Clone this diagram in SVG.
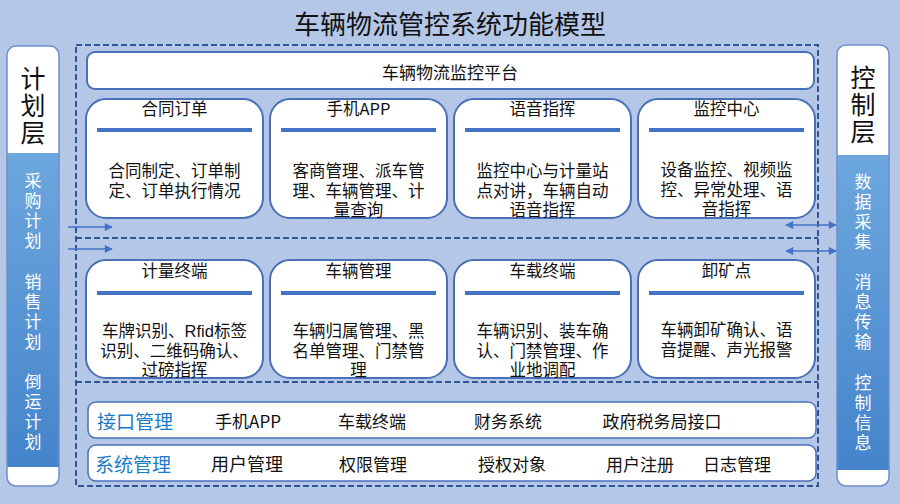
<svg xmlns="http://www.w3.org/2000/svg" width="900" height="504" viewBox="0 0 900 504">
<defs>
<linearGradient id="sideGrad" x1="0" y1="0" x2="0" y2="1">
<stop offset="0" stop-color="#6DA7DE"/>
<stop offset="1" stop-color="#4484CB"/>
</linearGradient>
<marker id="ah" viewBox="0 0 10 10" refX="9" refY="5" markerWidth="9" markerHeight="8" markerUnits="userSpaceOnUse" orient="auto-start-reverse">
<path d="M0,0 L10,5 L0,10 z" fill="#4472C4"/>
</marker>
<clipPath id="clipL"><rect x="7" y="46" width="52" height="440" rx="9"/></clipPath>
<clipPath id="clipR"><rect x="837" y="45" width="52" height="441" rx="9"/></clipPath>
</defs>
<style>
text{font-family:"Noto Sans CJK SC","Noto Sans",sans-serif;fill:#111;text-anchor:middle;dominant-baseline:central}
.card{fill:#fff;stroke:#4A70B8;stroke-width:2}
.bar{stroke:#4472C4;stroke-width:4}
.ct{font-size:16.5px}
.cb{font-size:16.5px;font-family:"Liberation Sans","Noto Sans CJK SC",sans-serif}
.dash{fill:none;stroke:#2F5597;stroke-width:2;stroke-dasharray:6 3}
.side{font-size:25px;writing-mode:vertical-rl;letter-spacing:2px}
.sidew{font-size:17px;fill:#fff;writing-mode:vertical-rl;letter-spacing:3px}
.strip{fill:#fff;stroke:#4A70B8;stroke-width:1.5}
.bt{font-size:17px}
.bh{font-size:19px;fill:#1B7BC9}
.arr{stroke:#4472C4;stroke-width:1.6;fill:none}
</style>
<rect x="0" y="0" width="900" height="504" fill="#B4C7E7"/>
<text x="450" y="22" style="font-size:26px">车辆物流管控系统功能模型</text>

<g id="plan-layer">
<g clip-path="url(#clipL)">
<rect x="7" y="46" width="52" height="440" fill="#fff"/>
<rect x="7" y="153" width="52" height="314" fill="url(#sideGrad)"/>
</g>
<rect x="7" y="46" width="52" height="440" rx="9" fill="none" stroke="#6F8FCB" stroke-width="1.5"/>
<text x="33" y="106" class="side">计划层</text>
<text x="33" y="212" class="sidew">采购计划</text>
<text x="33" y="313" class="sidew">销售计划</text>
<text x="33" y="413" class="sidew">倒运计划</text>
</g>

<g id="control-layer">
<g clip-path="url(#clipR)">
<rect x="837" y="45" width="52" height="441" fill="#fff"/>
<rect x="837" y="155" width="52" height="315" fill="url(#sideGrad)"/>
</g>
<rect x="837" y="45" width="52" height="441" rx="9" fill="none" stroke="#6F8FCB" stroke-width="1.5"/>
<text x="863" y="105.5" class="side">控制层</text>
<text x="863" y="213.5" class="sidew">数据采集</text>
<text x="863" y="313.5" class="sidew">消息传输</text>
<text x="863" y="414" class="sidew">控制信息</text>
</g>

<g id="frame">
<rect x="76" y="45" width="742" height="441" class="dash"/>
<line x1="76" y1="238" x2="818" y2="238" class="dash"/>
<line x1="76" y1="382" x2="818" y2="382" class="dash"/>
</g>

<g id="platform">
<rect x="87" y="52" width="727" height="37" rx="8" class="card" stroke-width="1.5"/>
<text x="450" y="71" style="font-size:17px">车辆物流监控平台</text>
</g>

<g id="card-contract">
<rect x="86" y="99" width="177" height="119" rx="20" class="card"/>
<text x="174.5" y="108" class="ct">合同订单</text>
<line x1="97" y1="130" x2="252" y2="130" class="bar"/>
<text class="cb"><tspan x="174.5" y="171">合同制定、订单制</tspan><tspan x="174.5" y="190.5">定、订单执行情况</tspan></text>
</g>
<g id="card-app">
<rect x="270" y="99" width="177" height="119" rx="20" class="card"/>
<text x="358.5" y="108" class="ct">手机APP</text>
<line x1="281" y1="130" x2="436" y2="130" class="bar"/>
<text class="cb"><tspan x="358.5" y="171">客商管理、派车管</tspan><tspan x="358.5" y="190.5">理、车辆管理、计</tspan><tspan x="358.5" y="210">量查询</tspan></text>
</g>
<g id="card-voice">
<rect x="454" y="99" width="177" height="119" rx="20" class="card"/>
<text x="542.5" y="108" class="ct">语音指挥</text>
<line x1="465" y1="130" x2="620" y2="130" class="bar"/>
<text class="cb"><tspan x="542.5" y="171">监控中心与计量站</tspan><tspan x="542.5" y="190.5">点对讲，车辆自动</tspan><tspan x="542.5" y="210">语音指挥</tspan></text>
</g>
<g id="card-monitor">
<rect x="638" y="99" width="177" height="119" rx="20" class="card"/>
<text x="726.5" y="108" class="ct">监控中心</text>
<line x1="649" y1="130" x2="804" y2="130" class="bar"/>
<text class="cb"><tspan x="726.5" y="170">设备监控、视频监</tspan><tspan x="726.5" y="189.5">控、异常处理、语</tspan><tspan x="726.5" y="209">音指挥</tspan></text>
</g>

<g id="card-weigh">
<rect x="86" y="260" width="177" height="118" rx="20" class="card"/>
<text x="174.5" y="270" class="ct">计量终端</text>
<line x1="97" y1="293" x2="252" y2="293" class="bar"/>
<text class="cb"><tspan x="174.5" y="331">车牌识别、Rfid标签</tspan><tspan x="174.5" y="350.5">识别、二维码确认、</tspan><tspan x="174.5" y="370">过磅指挥</tspan></text>
</g>
<g id="card-vehicle">
<rect x="270" y="260" width="177" height="118" rx="20" class="card"/>
<text x="358.5" y="270" class="ct">车辆管理</text>
<line x1="281" y1="293" x2="436" y2="293" class="bar"/>
<text class="cb"><tspan x="358.5" y="331">车辆归属管理、黑</tspan><tspan x="358.5" y="350.5">名单管理、门禁管</tspan><tspan x="358.5" y="370">理</tspan></text>
</g>
<g id="card-onboard">
<rect x="454" y="260" width="177" height="118" rx="20" class="card"/>
<text x="542.5" y="270" class="ct">车载终端</text>
<line x1="465" y1="293" x2="620" y2="293" class="bar"/>
<text class="cb"><tspan x="542.5" y="331">车辆识别、装车确</tspan><tspan x="542.5" y="350.5">认、门禁管理、作</tspan><tspan x="542.5" y="370">业地调配</tspan></text>
</g>
<g id="card-unload">
<rect x="638" y="260" width="177" height="118" rx="20" class="card"/>
<text x="726.5" y="270" class="ct">卸矿点</text>
<line x1="649" y1="293" x2="804" y2="293" class="bar"/>
<text class="cb"><tspan x="726.5" y="330">车辆卸矿确认、语</tspan><tspan x="726.5" y="349.5">音提醒、声光报警</tspan></text>
</g>

<g id="interface-bar">
<rect x="88" y="402" width="728" height="36" rx="8" class="strip"/>
<text x="135" y="420" class="bh">接口管理</text>
<text x="248" y="420" class="bt">手机APP</text>
<text x="372" y="420" class="bt">车载终端</text>
<text x="508" y="420" class="bt">财务系统</text>
<text x="662" y="420" class="bt">政府税务局接口</text>
</g>
<g id="system-bar">
<rect x="88" y="445" width="728" height="36" rx="8" class="strip"/>
<text x="133" y="463" class="bh">系统管理</text>
<text x="247" y="463" class="bt" style="font-size:18px">用户管理</text>
<text x="373" y="463" class="bt">权限管理</text>
<text x="512" y="463" class="bt">授权对象</text>
<text x="640" y="463" class="bt">用户注册</text>
<text x="737" y="463" class="bt">日志管理</text>
</g>

<g id="connectors">
<line x1="68" y1="227" x2="112" y2="227" class="arr" marker-end="url(#ah)"/>
<line x1="68" y1="249" x2="112" y2="249" class="arr" marker-end="url(#ah)"/>
<line x1="786" y1="225" x2="836" y2="225" class="arr" marker-start="url(#ah)" marker-end="url(#ah)"/>
<line x1="786" y1="251" x2="836" y2="251" class="arr" marker-start="url(#ah)" marker-end="url(#ah)"/>
</g>
</svg>
